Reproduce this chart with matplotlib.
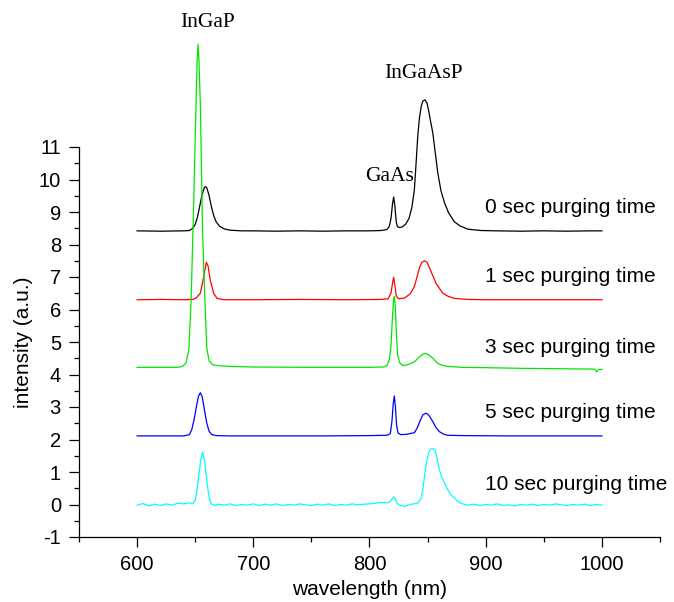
import matplotlib
matplotlib.use("Agg")
import matplotlib.pyplot as plt
from matplotlib.ticker import MultipleLocator

plt.rcParams['font.family'] = ['Liberation Sans', 'DejaVu Sans']
plt.rcParams['axes.unicode_minus'] = False

# ---- data ----
wl_0 = [600, 620, 640, 645, 648, 650, 652, 654, 656, 658, 659, 660, 662, 664, 666, 668, 671, 675, 680, 690,
        700, 720, 740, 760, 780, 800, 810, 815, 817, 818.5, 819.8, 820.8, 821.8, 823, 824, 826, 828, 831,
        834, 836.5, 838.6, 840, 841.5, 843, 844.5, 846, 847.8, 849.5, 851, 852.5, 854.5, 856.5, 858.8, 861.5,
        864.6, 868, 873, 878, 884.7, 896, 910, 930, 950, 970, 990, 1000]
in_0 = [8.42, 8.41, 8.42, 8.43, 8.5, 8.62, 8.85, 9.2, 9.55, 9.76, 9.78, 9.74, 9.5, 9.15, 8.88, 8.7, 8.56, 8.48, 8.44, 8.42,
        8.42, 8.41, 8.42, 8.41, 8.42, 8.42, 8.43, 8.46, 8.55, 8.8, 9.25, 9.46, 9.2, 8.7, 8.55, 8.52, 8.54, 8.62,
        8.8, 9.15, 9.68, 10.45, 11.32, 11.9, 12.25, 12.42, 12.45, 12.35, 12.1, 11.8, 11.43, 10.85, 10.2, 9.65,
        9.28, 8.98, 8.7, 8.57, 8.47, 8.43, 8.42, 8.41, 8.42, 8.41, 8.42, 8.42]

wl_1 = [600, 620, 640, 648, 651, 654.4, 657.3, 659.6, 661, 663, 665.9, 668.8, 675, 700, 740, 780, 810, 816,
        818.5, 820, 820.8, 821.8, 823, 825, 830, 835, 838.6, 842.9, 845, 847.3, 849.5, 852.4, 857.3, 863.1,
        868, 873.1, 885, 900, 950, 1000]
in_1 = [6.3, 6.31, 6.3, 6.31, 6.36, 6.5, 7.0, 7.45, 7.35, 6.9, 6.5, 6.34, 6.3, 6.3, 6.31, 6.3, 6.31, 6.33,
        6.5, 6.85, 6.99, 6.75, 6.42, 6.33, 6.35, 6.48, 6.7, 7.27, 7.45, 7.5, 7.45, 7.22, 6.8, 6.5,
        6.4, 6.34, 6.31, 6.3, 6.3, 6.3]

wl_3 = [600, 620, 635, 639, 642, 644.5, 646.5, 648.5, 650.5, 651.7, 652.4, 653.2, 654.5, 656.3, 658, 660, 662, 665,
        670, 680, 700, 750, 800, 812, 815, 817, 818.5, 819.8, 820.7, 821.4, 822.2, 823.2, 824.2, 826, 828.6,
        833, 838.6, 842.9, 845.5, 848, 851, 854.5, 858.8, 863, 867.4, 880, 900, 930, 960, 980, 990, 994,
        995.5, 997, 1000]
in_3 = [4.22, 4.22, 4.22, 4.25, 4.35, 4.75, 6.3, 9.0, 12.0, 13.7, 14.15, 13.7, 12.2, 8.45, 6.6, 4.8, 4.42, 4.3,
        4.27, 4.25, 4.23, 4.22, 4.22, 4.23, 4.27, 4.45, 4.9, 5.8, 6.3, 6.4, 6.1, 5.2, 4.6, 4.36, 4.28,
        4.3, 4.39, 4.54, 4.62, 4.65, 4.6, 4.5, 4.34, 4.28, 4.25, 4.22, 4.21, 4.19, 4.18, 4.17, 4.17, 4.16,
        4.08, 4.15, 4.16]

wl_5 = [600, 620, 640, 645, 647, 649, 651, 652.8, 654.4, 656, 658, 660, 662, 664.5, 668, 680, 720, 760, 800,
        815, 817.9, 819.3, 820.4, 821.4, 822.3, 823.3, 824.5, 827, 832, 838.6, 841, 843.8, 846, 848.7, 851,
        854.5, 857, 860.2, 864, 867.4, 880, 920, 960, 1000]
in_5 = [2.11, 2.11, 2.11, 2.15, 2.3, 2.6, 3.0, 3.33, 3.44, 3.32, 2.9, 2.5, 2.25, 2.15, 2.12, 2.11, 2.11, 2.11, 2.12,
        2.13, 2.18, 2.55, 3.1, 3.34, 3.0, 2.45, 2.2, 2.15, 2.16, 2.21, 2.35, 2.6, 2.76, 2.81, 2.75,
        2.55, 2.38, 2.24, 2.16, 2.13, 2.12, 2.11, 2.11, 2.11]

wl_10 = [600, 605, 610, 615, 620, 625, 630, 635, 640, 645, 648, 650.1, 651.5, 653, 654.7, 656.4, 658, 659.6,
         661, 662.4, 664, 667, 670, 675, 680, 685, 690, 695, 700, 705, 710, 715, 720, 725, 730, 735, 740,
         745, 750, 755, 760, 765, 770, 775, 780, 785, 790, 795, 800, 805, 810, 813, 816, 818, 819.5, 821,
         822.5, 824, 826, 828, 830, 832, 835, 838, 841.5, 844.4, 846, 847.3, 849, 851, 852.4, 854.5, 856.4,
         858, 860.2, 863, 866, 868, 870.3, 873, 876.1, 880, 884.7, 890, 895, 900, 905, 910, 915, 920, 925,
         930, 935, 940, 945, 950, 955, 960, 965, 970, 975, 980, 985, 990, 995, 1000]
in_10 = [-0.02, 0.03, -0.04, 0.01, -0.03, 0.02, -0.02, 0.04, 0.02, 0.05, 0.02, 0.14, 0.45, 0.86, 1.35, 1.62, 1.35, 0.86,
         0.45, 0.14, 0.02, -0.03, 0.01, -0.02, 0.02, -0.03, 0.0, -0.02, 0.02, -0.03, 0.01, -0.02, 0.02, -0.03, 0.0, -0.02, 0.02,
         -0.01, -0.03, 0.01, -0.02, 0.02, -0.03, 0.0, -0.02, 0.02, -0.01, 0.01, 0.02, 0.04, 0.06, 0.05, 0.06, 0.1, 0.18, 0.23,
         0.15, 0.03, -0.04, -0.02, -0.07, -0.03, 0.0, 0.02, 0.04, 0.19, 0.5, 0.86, 1.3, 1.6, 1.7, 1.72, 1.68,
         1.45, 1.06, 0.78, 0.55, 0.42, 0.29, 0.2, 0.09, 0.02, -0.02, 0.01, -0.03, 0.0, -0.02, 0.02, -0.03, -0.01, -0.04,
         0.0, -0.02, 0.01, -0.03, 0.0, -0.02, 0.02, -0.01, -0.03, 0.0, -0.02, 0.01, -0.03, 0.0, -0.02]

series_labels = ["0 sec purging time", "1 sec purging time", "3 sec purging time",
                 "5 sec purging time", "10 sec purging time"]
series_colors = ["black", "#ff0000", "#00e600", "#0000ff", "#00ffff"]
label_y = [9.15, 7.03, 4.82, 2.82, 0.63]
peak_names = ["InGaP", "InGaAsP", "GaAs"]
peak_pos = [(660.9, 14.84), (846.5, 13.25), (817.6, 10.09)]

xticks = [600, 700, 800, 900, 1000]
yticks = list(range(-1, 12))

# ---- figure ----
fig = plt.figure(figsize=(6.74, 6.02), dpi=100)
ax = fig.add_axes([79/674, 65/602, 581/674, 390/602])

wls = [wl_0, wl_1, wl_3, wl_5, wl_10]
ins = [in_0, in_1, in_3, in_5, in_10]
for w, v, c in zip(wls, ins, series_colors):
    ax.plot(w, v, color=c, lw=0.9, clip_on=False)

for lab, yy in zip(series_labels, label_y):
    ax.text(899.5, yy, lab, fontsize=15, va='center', ha='left', clip_on=False)

for name, (px, py) in zip(peak_names, peak_pos):
    ax.text(px, py, name, fontsize=15.5, ha='center', va='center',
            family=['Liberation Serif', 'DejaVu Serif'], clip_on=False)

ax.set_xlim(550, 1050)
ax.set_ylim(-1, 11)
ax.set_xticks(xticks)
ax.set_yticks(yticks)
ax.xaxis.set_minor_locator(MultipleLocator(50))
ax.yaxis.set_minor_locator(MultipleLocator(0.5))
ax.tick_params(which='major', direction='out', length=7, width=0.9, labelsize=14.5, pad=6)
ax.tick_params(which='minor', direction='out', length=3.5, width=0.9)
for s in ['top', 'right']:
    ax.spines[s].set_visible(False)
for s in ['left', 'bottom']:
    ax.spines[s].set_linewidth(0.9)

ax.set_xlabel("wavelength (nm)", fontsize=15, labelpad=4)
ax.set_ylabel("intensity (a.u.)", fontsize=15, labelpad=4)

fig.savefig("out.png", dpi=100)
